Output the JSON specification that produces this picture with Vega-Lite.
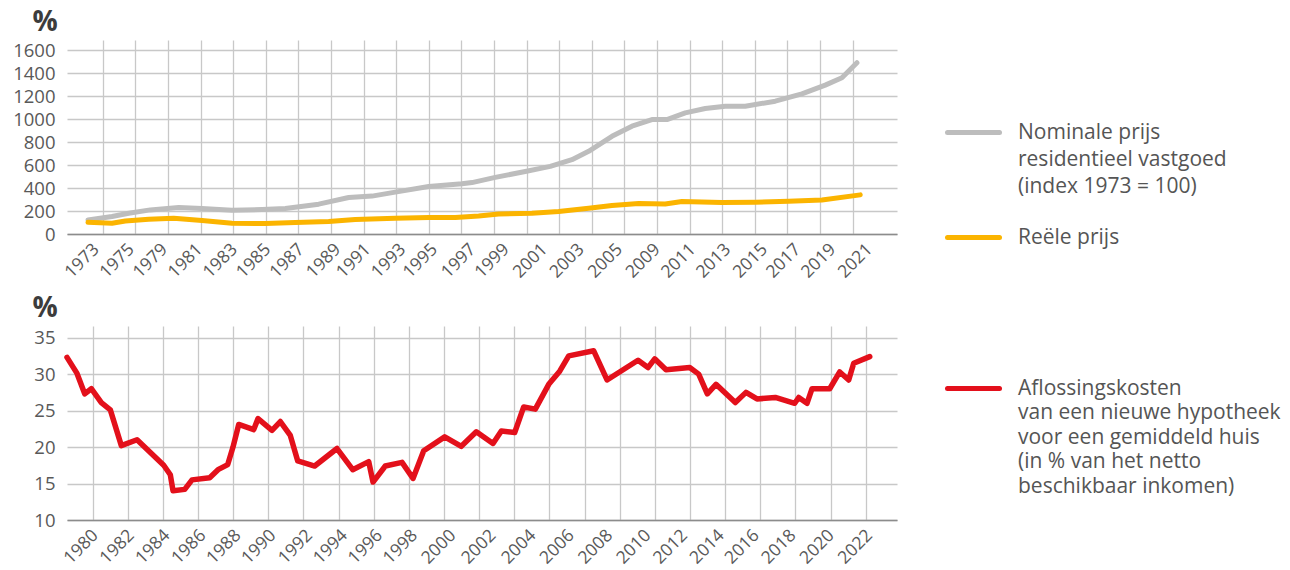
{
  "$schema": "https://vega.github.io/schema/vega-lite/v6.json",
  "padding": {"left": 12, "top": 8, "right": 5, "bottom": 2},
  "bounds": "flush",
  "spacing": 92,
  "resolve": {"scale": {"color": "independent"}, "legend": {"color": "independent"}},
  "config": {
    "view": {"stroke": null},
    "font": "Open Sans",
    "axis": {"labelFont": "Open Sans", "labelFontSize": 18.5, "labelColor": "#595959", "gridColor": "#c8c8c8", "gridWidth": 1.3, "titleFont": "Open Sans"},
    "legend": {"labelFont": "Open Sans", "labelFontSize": 21, "labelColor": "#555555", "title": null, "symbolType": "stroke", "symbolSize": 2704, "symbolStrokeWidth": 5, "labelOffset": 16, "labelLimit": 600}
  },
  "vconcat": [
    {
      "width": 830,
      "height": 194,
      "data": {"values": [
        {"pos": -0.451, "series": "nominal", "index": 122},
        {"pos": 0.285, "series": "nominal", "index": 152},
        {"pos": 0.797, "series": "nominal", "index": 181},
        {"pos": 1.46, "series": "nominal", "index": 210},
        {"pos": 2.331, "series": "nominal", "index": 231},
        {"pos": 3.045, "series": "nominal", "index": 222},
        {"pos": 3.965, "series": "nominal", "index": 207},
        {"pos": 4.885, "series": "nominal", "index": 213},
        {"pos": 5.6, "series": "nominal", "index": 222},
        {"pos": 6.624, "series": "nominal", "index": 260},
        {"pos": 7.544, "series": "nominal", "index": 318},
        {"pos": 8.258, "series": "nominal", "index": 330},
        {"pos": 8.973, "series": "nominal", "index": 365},
        {"pos": 9.997, "series": "nominal", "index": 414},
        {"pos": 11.018, "series": "nominal", "index": 437},
        {"pos": 11.325, "series": "nominal", "index": 448},
        {"pos": 12.039, "series": "nominal", "index": 493},
        {"pos": 12.959, "series": "nominal", "index": 545},
        {"pos": 13.726, "series": "nominal", "index": 589},
        {"pos": 14.391, "series": "nominal", "index": 647},
        {"pos": 14.903, "series": "nominal", "index": 720},
        {"pos": 15.618, "series": "nominal", "index": 851},
        {"pos": 16.231, "series": "nominal", "index": 939},
        {"pos": 16.844, "series": "nominal", "index": 997},
        {"pos": 17.304, "series": "nominal", "index": 997},
        {"pos": 17.866, "series": "nominal", "index": 1055},
        {"pos": 18.479, "series": "nominal", "index": 1093},
        {"pos": 19.092, "series": "nominal", "index": 1113},
        {"pos": 19.706, "series": "nominal", "index": 1113},
        {"pos": 20.626, "series": "nominal", "index": 1157},
        {"pos": 21.444, "series": "nominal", "index": 1221},
        {"pos": 22.159, "series": "nominal", "index": 1297},
        {"pos": 22.671, "series": "nominal", "index": 1361},
        {"pos": 23.131, "series": "nominal", "index": 1492},
        {"pos": -0.451, "series": "real", "index": 102},
        {"pos": 0.285, "series": "real", "index": 94},
        {"pos": 0.693, "series": "real", "index": 114},
        {"pos": 1.411, "series": "real", "index": 128},
        {"pos": 2.177, "series": "real", "index": 137},
        {"pos": 3.045, "series": "real", "index": 117},
        {"pos": 3.965, "series": "real", "index": 94},
        {"pos": 4.986, "series": "real", "index": 91},
        {"pos": 5.906, "series": "real", "index": 100},
        {"pos": 6.93, "series": "real", "index": 108},
        {"pos": 7.746, "series": "real", "index": 126},
        {"pos": 8.973, "series": "real", "index": 137},
        {"pos": 9.997, "series": "real", "index": 143},
        {"pos": 10.813, "series": "real", "index": 143},
        {"pos": 11.53, "series": "real", "index": 157},
        {"pos": 12.143, "series": "real", "index": 175},
        {"pos": 13.164, "series": "real", "index": 181},
        {"pos": 13.983, "series": "real", "index": 196},
        {"pos": 14.903, "series": "real", "index": 225},
        {"pos": 15.618, "series": "real", "index": 248},
        {"pos": 16.437, "series": "real", "index": 266},
        {"pos": 17.252, "series": "real", "index": 262},
        {"pos": 17.764, "series": "real", "index": 283},
        {"pos": 18.991, "series": "real", "index": 274},
        {"pos": 20.012, "series": "real", "index": 277},
        {"pos": 21.036, "series": "real", "index": 286},
        {"pos": 22.058, "series": "real", "index": 297},
        {"pos": 23.232, "series": "real", "index": 341}
      ]},
      "mark": {"type": "line", "strokeWidth": 5, "strokeCap": "round", "strokeJoin": "round"},
      "encoding": {
        "x": {
          "field": "pos", "type": "quantitative",
          "scale": {"domain": [-1.095, 24.36], "nice": false, "zero": false},
          "axis": {
            "title": null,
            "values": [0,1,2,3,4,5,6,7,8,9,10,11,12,13,14,15,16,17,18,19,20,21,22,23,-0.4,0.673,1.694,2.768,3.841,4.862,5.886,7.009,7.929,9.002,9.974,11.149,12.173,13.347,14.473,15.647,16.803,17.895,18.968,20.094,21.115,22.188,23.313],
            "labelExpr": "indexof([-0.4,0.673,1.694,2.768,3.841,4.862,5.886,7.009,7.929,9.002,9.974,11.149,12.173,13.347,14.473,15.647,16.803,17.895,18.968,20.094,21.115,22.188,23.313], datum.value) < 0 ? '' : ['1973','1975','1979','1981','1983','1985','1987','1989','1991','1993','1995','1997','1999','2001','2003','2005','2009','2011','2013','2015','2017','2019','2021'][indexof([-0.4,0.673,1.694,2.768,3.841,4.862,5.886,7.009,7.929,9.002,9.974,11.149,12.173,13.347,14.473,15.647,16.803,17.895,18.968,20.094,21.115,22.188,23.313], datum.value)]",
            "labelAngle": -45,
            "labelFontSize": 17.5,
            "labelOverlap": false,
            "labelFlush": false,
            "labelPadding": 6,
            "ticks": false,
            "domain": true,
            "domainColor": "#8c8c8c",
            "domainWidth": 1.6,
            "grid": true,
            "gridOpacity": {"condition": {"test": "datum.value % 1 != 0", "value": 0}, "value": 1}
          }
        },
        "y": {
          "field": "index", "type": "quantitative",
          "scale": {"domain": [0, 1690], "nice": false},
          "axis": {
            "values": [0,200,400,600,800,1000,1200,1400,1600],
            "format": "d",
            "title": "%", "titleAngle": 0, "titleAlign": "left", "titleBaseline": "alphabetic",
            "titleX": -35, "titleY": -10, "titleFontSize": 28, "titleFontWeight": "bold", "titleColor": "#3c3c3c",
            "grid": true, "ticks": false, "domain": false, "labelPadding": 12
          }
        },
        "color": {
          "field": "series", "type": "nominal",
          "scale": {"domain": ["nominal", "real"], "range": ["#bdbdbd", "#fbb400"]},
          "legend": {
            "orient": "none", "legendX": 878, "legendY": 64,
            "rowPadding": 12,
            "labelBaseline": "top",
            "labelExpr": "datum.value == 'nominal' ? ['Nominale prijs', 'residentieel vastgoed', '(index 1973 = 100)'] : 'Reële prijs'",
            "encode": {
              "labels": {"update": {"lineHeight": {"value": 27}, "dy": {"value": -11}}},
              "symbols": {"update": {"strokeCap": {"value": "round"}}}
            }
          }
        }
      }
    },
    {
      "width": 830,
      "height": 194,
      "data": {"values": [
        {"pos": -0.729, "series": "cost", "share": 32.3},
        {"pos": -0.444, "series": "cost", "share": 30.1},
        {"pos": -0.225, "series": "cost", "share": 27.3},
        {"pos": -0.037, "series": "cost", "share": 28.0},
        {"pos": 0.248, "series": "cost", "share": 26.1},
        {"pos": 0.504, "series": "cost", "share": 25.1},
        {"pos": 0.817, "series": "cost", "share": 20.2},
        {"pos": 1.264, "series": "cost", "share": 21.0},
        {"pos": 2.023, "series": "cost", "share": 17.5},
        {"pos": 2.211, "series": "cost", "share": 16.2},
        {"pos": 2.288, "series": "cost", "share": 14.0},
        {"pos": 2.621, "series": "cost", "share": 14.2},
        {"pos": 2.829, "series": "cost", "share": 15.5},
        {"pos": 3.332, "series": "cost", "share": 15.8},
        {"pos": 3.569, "series": "cost", "share": 16.9},
        {"pos": 3.845, "series": "cost", "share": 17.6},
        {"pos": 3.995, "series": "cost", "share": 20.0},
        {"pos": 4.158, "series": "cost", "share": 23.1},
        {"pos": 4.585, "series": "cost", "share": 22.4},
        {"pos": 4.707, "series": "cost", "share": 23.9},
        {"pos": 5.105, "series": "cost", "share": 22.3},
        {"pos": 5.342, "series": "cost", "share": 23.5},
        {"pos": 5.626, "series": "cost", "share": 21.6},
        {"pos": 5.837, "series": "cost", "share": 18.1},
        {"pos": 6.32, "series": "cost", "share": 17.4},
        {"pos": 6.955, "series": "cost", "share": 19.8},
        {"pos": 7.402, "series": "cost", "share": 16.9},
        {"pos": 7.857, "series": "cost", "share": 18.0},
        {"pos": 7.98, "series": "cost", "share": 15.2},
        {"pos": 8.329, "series": "cost", "share": 17.4},
        {"pos": 8.805, "series": "cost", "share": 17.9},
        {"pos": 9.118, "series": "cost", "share": 15.7},
        {"pos": 9.422, "series": "cost", "share": 19.5},
        {"pos": 10.02, "series": "cost", "share": 21.4},
        {"pos": 10.492, "series": "cost", "share": 20.1},
        {"pos": 10.919, "series": "cost", "share": 22.1},
        {"pos": 11.394, "series": "cost", "share": 20.5},
        {"pos": 11.631, "series": "cost", "share": 22.2},
        {"pos": 12.012, "series": "cost", "share": 22.0},
        {"pos": 12.268, "series": "cost", "share": 25.5},
        {"pos": 12.598, "series": "cost", "share": 25.2},
        {"pos": 12.98, "series": "cost", "share": 28.6},
        {"pos": 13.293, "series": "cost", "share": 30.4},
        {"pos": 13.549, "series": "cost", "share": 32.5},
        {"pos": 14.26, "series": "cost", "share": 33.2},
        {"pos": 14.639, "series": "cost", "share": 29.2},
        {"pos": 15.521, "series": "cost", "share": 31.9},
        {"pos": 15.805, "series": "cost", "share": 30.9},
        {"pos": 15.996, "series": "cost", "share": 32.1},
        {"pos": 16.318, "series": "cost", "share": 30.6},
        {"pos": 16.992, "series": "cost", "share": 30.9},
        {"pos": 17.248, "series": "cost", "share": 30.0},
        {"pos": 17.493, "series": "cost", "share": 27.3},
        {"pos": 17.74, "series": "cost", "share": 28.6},
        {"pos": 18.29, "series": "cost", "share": 26.1},
        {"pos": 18.594, "series": "cost", "share": 27.5},
        {"pos": 18.907, "series": "cost", "share": 26.6},
        {"pos": 19.428, "series": "cost", "share": 26.8},
        {"pos": 19.98, "series": "cost", "share": 26.0},
        {"pos": 20.094, "series": "cost", "share": 26.8},
        {"pos": 20.33, "series": "cost", "share": 26.0},
        {"pos": 20.473, "series": "cost", "share": 28.0},
        {"pos": 20.976, "series": "cost", "share": 28.0},
        {"pos": 21.261, "series": "cost", "share": 30.3},
        {"pos": 21.517, "series": "cost", "share": 29.2},
        {"pos": 21.659, "series": "cost", "share": 31.5},
        {"pos": 22.115, "series": "cost", "share": 32.4}
      ]},
      "mark": {"type": "line", "strokeWidth": 5.5, "strokeCap": "round", "strokeJoin": "round"},
      "encoding": {
        "x": {
          "field": "pos", "type": "quantitative",
          "scale": {"domain": [-0.729, 22.891], "nice": false, "zero": false},
          "axis": {
            "title": null,
            "values": [0,1,2,3,4,5,6,7,8,9,10,11,12,13,14,15,16,17,18,19,20,21,22,-0.11,0.914,1.927,2.952,3.948,4.944,5.988,6.984,7.98,8.976,10.066,11.205,12.343,13.436,14.526,15.615,16.66,17.704,18.7,19.742,20.835,21.924],
            "labelExpr": "indexof([-0.11,0.914,1.927,2.952,3.948,4.944,5.988,6.984,7.98,8.976,10.066,11.205,12.343,13.436,14.526,15.615,16.66,17.704,18.7,19.742,20.835,21.924], datum.value) < 0 ? '' : ['1980','1982','1984','1986','1988','1990','1992','1994','1996','1998','2000','2002','2004','2006','2008','2010','2012','2014','2016','2018','2020','2022'][indexof([-0.11,0.914,1.927,2.952,3.948,4.944,5.988,6.984,7.98,8.976,10.066,11.205,12.343,13.436,14.526,15.615,16.66,17.704,18.7,19.742,20.835,21.924], datum.value)]",
            "labelAngle": -45,
            "labelFontSize": 17.5,
            "labelOverlap": false,
            "labelFlush": false,
            "labelPadding": 6,
            "ticks": false,
            "domain": true,
            "domainColor": "#8c8c8c",
            "domainWidth": 1.6,
            "grid": true,
            "gridOpacity": {"condition": {"test": "datum.value % 1 != 0", "value": 0}, "value": 1}
          }
        },
        "y": {
          "field": "share", "type": "quantitative",
          "scale": {"domain": [10, 36.6], "nice": false, "zero": false},
          "axis": {
            "values": [10,15,20,25,30,35],
            "title": "%", "titleAngle": 0, "titleAlign": "left", "titleBaseline": "alphabetic",
            "titleX": -35, "titleY": -10, "titleFontSize": 28, "titleFontWeight": "bold", "titleColor": "#3c3c3c",
            "grid": true, "ticks": false, "domain": false, "labelPadding": 12
          }
        },
        "color": {
          "field": "series", "type": "nominal",
          "scale": {"domain": ["cost"], "range": ["#e3101b"]},
          "legend": {
            "orient": "none", "legendX": 878, "legendY": 34,
            "labelBaseline": "top",
            "labelExpr": "['Aflossingskosten', 'van een nieuwe hypotheek', 'voor een gemiddeld huis', '(in % van het netto', 'beschikbaar inkomen)']",
            "encode": {
              "labels": {"update": {"lineHeight": {"value": 24.5}, "dy": {"value": -11}}},
              "symbols": {"update": {"strokeCap": {"value": "round"}}}
            }
          }
        }
      }
    }
  ]
}
